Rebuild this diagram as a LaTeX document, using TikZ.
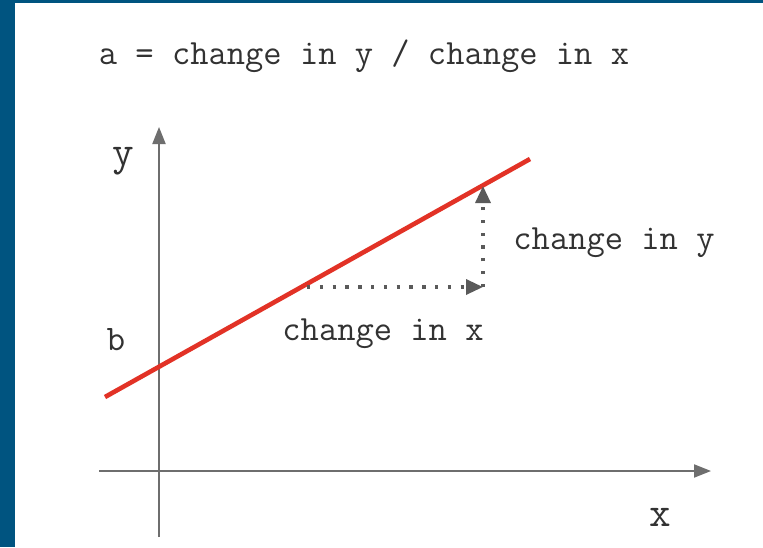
\documentclass[tikz,border=0pt]{standalone}
\usetikzlibrary{arrows.meta}
\definecolor{frameblue}{RGB}{0,84,128}
\definecolor{axisgray}{RGB}{110,110,110}
\definecolor{dotgray}{RGB}{90,90,90}
\definecolor{slopered}{RGB}{226,50,38}
\definecolor{textgray}{RGB}{50,50,50}
\tikzset{
  txt/.style={font=\ttfamily\fontsize{35.5}{40}\selectfont, text=textgray, inner sep=0pt},
  axlabel/.style={font=\ttfamily\fontsize{42}{46}\selectfont, text=textgray, inner sep=0pt},
  blabel/.style={font=\ttfamily\fontsize{36}{40}\selectfont, text=textgray, inner sep=0pt},
  axisline/.style={draw=axisgray, line width=2pt, -{Triangle[length=17pt,width=13pt]}},
  dotarrow/.style={draw=dotgray, line width=3.3pt, dash pattern=on 3.3pt off 9.5pt, -{Triangle[length=17pt,width=15pt,fill=dotgray]}},
  redline/.style={draw=slopered, line width=4.6pt}
}
\begin{document}
\begin{tikzpicture}[x=1pt,y=-1pt]
\useasboundingbox (0,0) rectangle (763,547);
\fill[white] (0,0) rectangle (763,547);
\fill[frameblue] (0,0) rectangle (15,547);
\fill[frameblue] (0,0) rectangle (763,3);

\node[txt] (title) at (364,56) {a = change in y / change in x};

\coordinate (yb) at (159,537);
\coordinate (yt) at (159,127);
\coordinate (xl) at (99,471);
\coordinate (xr) at (711,471);
\draw[axisline] (yb) -- (yt);
\draw[axisline] (xl) -- (xr);

\node[axlabel] (ylab) at (123,161) {y};
\node[axlabel] (xlab) at (660,517) {x};
\node[blabel] (blab) at (116,340) {b};

\coordinate (r0) at (105,397);
\coordinate (r1) at (530,159);
\draw[redline] (r0) -- (r1);

\coordinate (hs) at (307,287);
\coordinate (corner) at (483,287);
\coordinate (top) at (483,186);
\draw[dotarrow] (hs) -- (corner);
\draw[dotarrow] (corner) -- (top);

\node[txt] (cy) at (614,243) {change in y};
\node[txt] (cx) at (383,334) {change in x};
\end{tikzpicture}
\end{document}
